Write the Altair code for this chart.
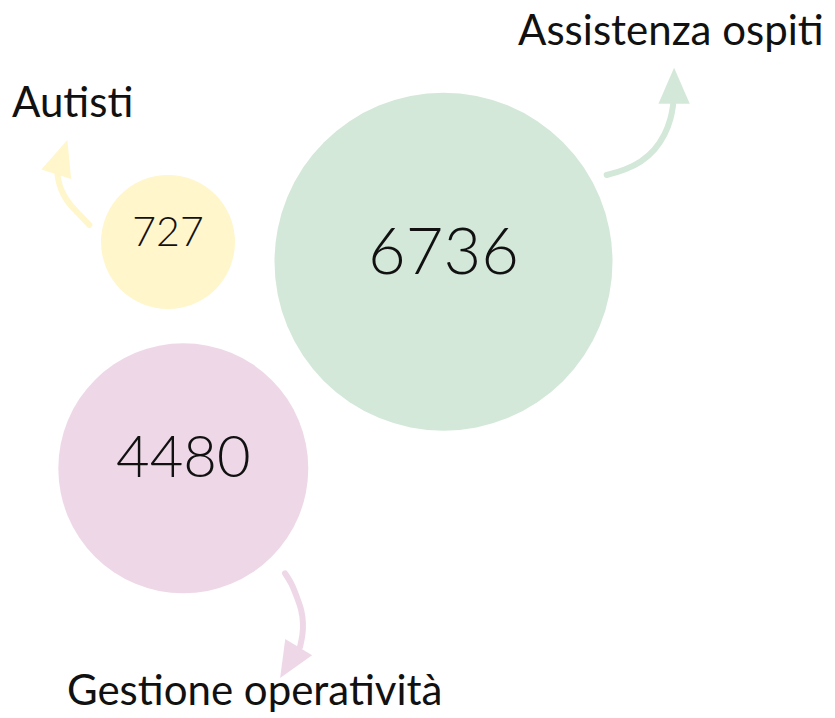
import altair as alt
import pandas as pd

# ---- data ----
categories = ["Autisti", "Assistenza ospiti", "Gestione operatività"]
values = [727, 6736, 4480]
colors = ["#FFF6CC", "#D3E8D8", "#EED8E8"]

# layout of the bubbles (page pixel units)
bubble_x = [168, 443.5, 183.3]
bubble_y = [242, 261.7, 468.3]
bubble_radius = [67, 169, 125]
number_size = [41, 65, 58]

# category labels
label_x = [12, 518, 67]
label_y = [117, 45, 705]

# arrow shafts
arrow_cat = ["Autisti"] * 7 + ["Assistenza ospiti"] * 8 + ["Gestione operatività"] * 7
arrow_x = [89.3, 80, 70, 63.3, 59.3, 57.3, 57.3,
           606.7, 625, 641.7, 655, 665, 671, 673.3, 673.7,
           285, 291.7, 296.7, 301.7, 303.3, 302.7, 300]
arrow_y = [225, 215, 205, 195, 185, 175, 168,
           175, 170, 161.7, 150, 135, 118.3, 105, 96,
           573.3, 583.3, 596.7, 610, 623.3, 635, 647]
# arrow heads
head_x = [61.8, 674.1, 289.4]
head_y = [157.1, 85.8, 662.5]
head_angle = [18, 0, 211]

W, H = 819, 706
xs = alt.Scale(domain=[8, 8 + W], nice=False, zero=False)
ys = alt.Scale(domain=[8, 8 + H], nice=False, zero=False, reverse=True)

bubbles = pd.DataFrame({
    "cat": categories, "value": values, "x": bubble_x, "y": bubble_y,
    "fs": number_size,
})
sorted_pairs = sorted(zip(values, bubble_radius))
# Vega circle: radius = sqrt(size) / 2
size_scale = alt.Scale(domain=[v for v, _ in sorted_pairs],
                       range=[(2 * r) ** 2 for _, r in sorted_pairs])
color_scale = alt.Scale(domain=categories, range=colors)

labels = pd.DataFrame({"cat": categories, "x": label_x, "y": label_y})
arrows = pd.DataFrame({"cat": arrow_cat, "x": arrow_x, "y": arrow_y,
                       "i": list(range(len(arrow_x)))})
heads = pd.DataFrame({"cat": categories, "x": head_x, "y": head_y, "angle": head_angle})

X = lambda: alt.X("x:Q", scale=xs, axis=None)
Y = lambda: alt.Y("y:Q", scale=ys, axis=None)

circles = alt.Chart(bubbles).mark_circle(opacity=1).encode(
    x=X(), y=Y(),
    size=alt.Size("value:Q", scale=size_scale, legend=None),
    color=alt.Color("cat:N", scale=color_scale, legend=None),
)

numbers = alt.Chart(bubbles).mark_text(
    font="Lato", fontWeight=300, align="center", baseline="middle", dy=-8,
    color="#111111"
).encode(
    x=X(), y=Y(), text=alt.Text("value:Q", format="d"),
    size=alt.Size("fs:Q", scale=None, legend=None),
)

label_text = alt.Chart(labels).mark_text(
    font="Lato", fontWeight=400, fontSize=42, align="left", baseline="alphabetic",
    color="#111111"
).encode(x=X(), y=Y(), text="cat:N")

shafts = alt.Chart(arrows).mark_line(
    strokeWidth=6, strokeCap="round", interpolate="basis", opacity=1
).encode(
    x=X(), y=Y(), order="i:Q",
    color=alt.Color("cat:N", scale=color_scale, legend=None),
    detail="cat:N",
)

arrowheads = alt.Chart(heads).mark_point(
    shape="M0,-1L-0.87,1L0.87,1Z", filled=True, opacity=1, size=1296, strokeWidth=0
).encode(
    x=X(), y=Y(), angle=alt.Angle("angle:Q", scale=None),
    color=alt.Color("cat:N", scale=color_scale, legend=None),
)

chart = alt.layer(circles, shafts, arrowheads, numbers, label_text).properties(
    width=W, height=H, autosize=alt.AutoSizeParams(type="none"), padding=0,
    background="white",
).configure_view(stroke=None)

chart.save("out.html", embed_options={"renderer": "svg", "actions": False})
